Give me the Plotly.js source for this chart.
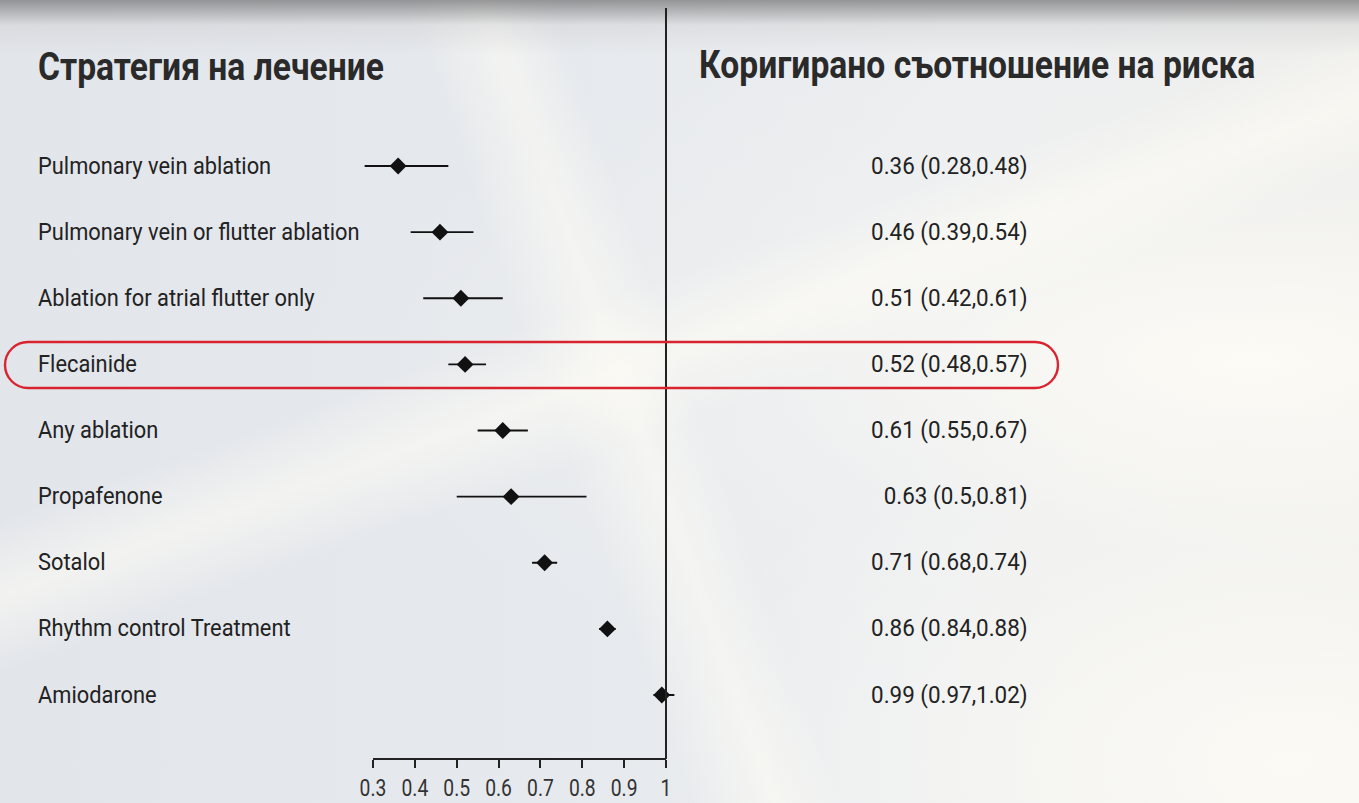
<!DOCTYPE html>
<html>
<head>
<meta charset="utf-8">
<script src="https://cdn.plot.ly/plotly-3.0.1.min.js"></script>
<style>
html,body{margin:0;padding:0;}
body{width:1359px;height:803px;overflow:hidden;
background:
 linear-gradient(180deg, rgba(120,120,122,0.75) 0px, rgba(200,200,202,0.35) 25px, rgba(235,236,238,0) 55px),
 linear-gradient(70deg, rgba(255,255,255,0) 0%, rgba(255,255,255,0) 42%, rgba(255,253,245,0.5) 47%, rgba(255,255,255,0) 51%),
 linear-gradient(160deg, rgba(255,255,255,0) 0%, rgba(255,255,255,0) 40%, rgba(255,253,245,0.55) 46%, rgba(255,255,255,0) 52%),
 radial-gradient(ellipse at 92% 45%, rgba(255,253,246,0.85) 0%, rgba(244,244,242,0.35) 30%, rgba(230,232,236,0) 55%),
 radial-gradient(ellipse at 95% 95%, rgba(255,253,246,0.8) 0%, rgba(240,240,238,0) 35%),
 linear-gradient(90deg, #e2e5ea 0%, #e6e9ed 40%, #eceef0 70%, #eeeeec 100%);}
#chart{width:1359px;height:803px;}
</style>
</head>
<body>
<div id="chart"></div>
<script>
const categories = ['Pulmonary vein ablation', 'Pulmonary vein or flutter ablation', 'Ablation for atrial flutter only', 'Flecainide', 'Any ablation', 'Propafenone', 'Sotalol', 'Rhythm control Treatment', 'Amiodarone'];
const hazardRatio = [0.36, 0.46, 0.51, 0.52, 0.61, 0.63, 0.71, 0.86, 0.99];
const lowerCI = [0.28, 0.39, 0.42, 0.48, 0.55, 0.5, 0.68, 0.84, 0.97];
const upperCI = [0.48, 0.54, 0.61, 0.57, 0.67, 0.81, 0.74, 0.88, 1.02];
const ciLabels = ['0.36 (0.28,0.48)', '0.46 (0.39,0.54)', '0.51 (0.42,0.61)', '0.52 (0.48,0.57)', '0.61 (0.55,0.67)', '0.63 (0.5,0.81)', '0.71 (0.68,0.74)', '0.86 (0.84,0.88)', '0.99 (0.97,1.02)'];
const tickValues = [0.3, 0.4, 0.5, 0.6, 0.7, 0.8, 0.9, 1.0];
const tickLabels = ['0.3', '0.4', '0.5', '0.6', '0.7', '0.8', '0.9', '1'];
const leftTitle = 'Стратегия на лечение';
const rightTitle = 'Коригирано съотношение на риска';
const highlightRow = 'Flecainide';

const W = 1359, H = 803, MT = 8, MB = 44;
const plotH = H - MT - MB;
const FONT = 'Roboto, "DejaVu Sans Condensed", sans-serif';
const rowIdx = categories.map((c, i) => i + 1);

const px = x => x / W;
const py = y => (H - MB - y) / plotH;

// axis geometry: 0.3 at 373px, 1.0 at 666px
const axMin = 0.3, axMax = 1.0, axPx0 = 373, axPx1 = 666;
const pxPerUnit = (axPx1 - axPx0) / (axMax - axMin);
const rMin = 0.26, rMax = 1.04;
const domPx0 = axPx0 - (axMin - rMin) * pxPerUnit, domPx1 = axPx1 + (rMax - axMax) * pxPerUnit;

const trace = {
  type: 'scatter', mode: 'markers',
  x: hazardRatio, y: rowIdx,
  marker: {symbol: 'diamond', size: 13, color: '#111'},
  error_x: {type: 'data', symmetric: false,
    array: upperCI.map((u, i) => u - hazardRatio[i]),
    arrayminus: lowerCI.map((l, i) => hazardRatio[i] - l),
    color: '#111', thickness: 1.8, width: 0},
  cliponaxis: false, hoverinfo: 'skip', showlegend: false
};

const annotations = [];
categories.forEach((c, i) => {
  annotations.push({xref: 'paper', yref: 'y', x: px(36), y: rowIdx[i], text: c, showarrow: false,
    xanchor: 'left', yanchor: 'middle', font: {family: FONT, size: 23, color: '#222'}, name: 'body'});
  annotations.push({xref: 'paper', yref: 'y', x: px(1030), y: rowIdx[i], text: ciLabels[i], showarrow: false,
    xanchor: 'right', yanchor: 'middle', font: {family: FONT, size: 23, color: '#222'}, name: 'value'});
});
annotations.push({xref: 'paper', yref: 'paper', x: px(36), y: py(67), text: '<b>' + leftTitle + '</b>', showarrow: false,
  xanchor: 'left', yanchor: 'middle', font: {family: FONT, size: 38, color: '#2a2a2a'}, name: 'title'});
annotations.push({xref: 'paper', yref: 'paper', x: px(697), y: py(65), text: '<b>' + rightTitle + '</b>', showarrow: false,
  xanchor: 'left', yanchor: 'middle', font: {family: FONT, size: 38, color: '#2a2a2a'}, name: 'title'});

// rounded highlight box around the highlighted row (pixel geometry converted to paper)
const bx0 = 5, bx1 = 1058, by0 = 342, by1 = 388, r = 23, k = 0.5523 * r;
const P = (x, y) => px(x).toFixed(5) + ',' + py(y).toFixed(5);
const boxPath = 'M' + P(bx0 + r, by0) + ' L' + P(bx1 - r, by0) +
  ' C' + P(bx1 - r + k, by0) + ' ' + P(bx1, by0 + r - k) + ' ' + P(bx1, by0 + r) +
  ' C' + P(bx1, by1 - r + k) + ' ' + P(bx1 - r + k, by1) + ' ' + P(bx1 - r, by1) +
  ' L' + P(bx0 + r, by1) +
  ' C' + P(bx0 + r - k, by1) + ' ' + P(bx0, by1 - r + k) + ' ' + P(bx0, by1 - r) +
  ' C' + P(bx0, by0 + r - k) + ' ' + P(bx0 + r - k, by0) + ' ' + P(bx0 + r, by0) + ' Z';

const layout = {
  width: W, height: H,
  margin: {l: 0, r: 0, t: MT, b: MB, pad: 0},
  paper_bgcolor: 'rgba(0,0,0,0)', plot_bgcolor: 'rgba(0,0,0,0)',
  showlegend: false,
  xaxis: {domain: [px(domPx0), px(domPx1)], range: [rMin, rMax], tickvals: tickValues, ticktext: tickLabels,
    showline: false, ticks: 'outside', ticklen: 8, tickwidth: 2, tickcolor: '#222',
    showgrid: false, zeroline: false, fixedrange: true,
    tickfont: {family: FONT, size: 23, color: '#333'}},
  yaxis: {range: [1 + (H - MB - 166) / 66.125, 1 - (166 - MT) / 66.125], visible: false, showgrid: false, zeroline: false},
  shapes: [
    {type: 'line', xref: 'x', yref: 'paper', x0: axMin, x1: axMax, y0: 0, y1: 0, line: {color: '#222', width: 2}},
    {type: 'line', xref: 'x', yref: 'paper', x0: 1, x1: 1, y0: 0, y1: 1, line: {color: '#222', width: 2}},
    {type: 'path', xref: 'paper', yref: 'paper', path: boxPath, line: {color: '#d9242f', width: 2.4}, fillcolor: 'rgba(0,0,0,0)'}
  ],
  annotations: annotations
};

// horizontal compression to mimic the condensed typeface of the original
const STRETCH = {body: 0.95, value: 0.975, title: 0.885, tick: 0.84};
function condense(gd) {
  const groups = gd.querySelectorAll('g.annotation');
  groups.forEach(g => {
    const idx = +g.getAttribute('data-index');
    const ann = gd.layout.annotations[idx];
    const t = g.querySelector('text.annotation-text');
    if (!t || !ann) return;
    const s = STRETCH[ann.name] || 1;
    const bb = t.getBBox();
    const ax = ann.xanchor === 'right' ? bb.x + bb.width : bb.x;
    t.setAttribute('transform', 'translate(' + ax + ',0) scale(' + s + ',1) translate(' + (-ax) + ',0)');
  });
  gd.querySelectorAll('g.xtick text').forEach(t => {
    const bb = t.getBBox();
    const cx = bb.x + bb.width / 2;
    const old = t.getAttribute('transform') || '';
    t.setAttribute('transform', old + ' translate(' + cx + ',0) scale(' + STRETCH.tick + ',1) translate(' + (-cx) + ',0)');
  });
}

Plotly.newPlot('chart', [trace], layout, {displayModeBar: false, staticPlot: true}).then(condense);
</script>
</body>
</html>
